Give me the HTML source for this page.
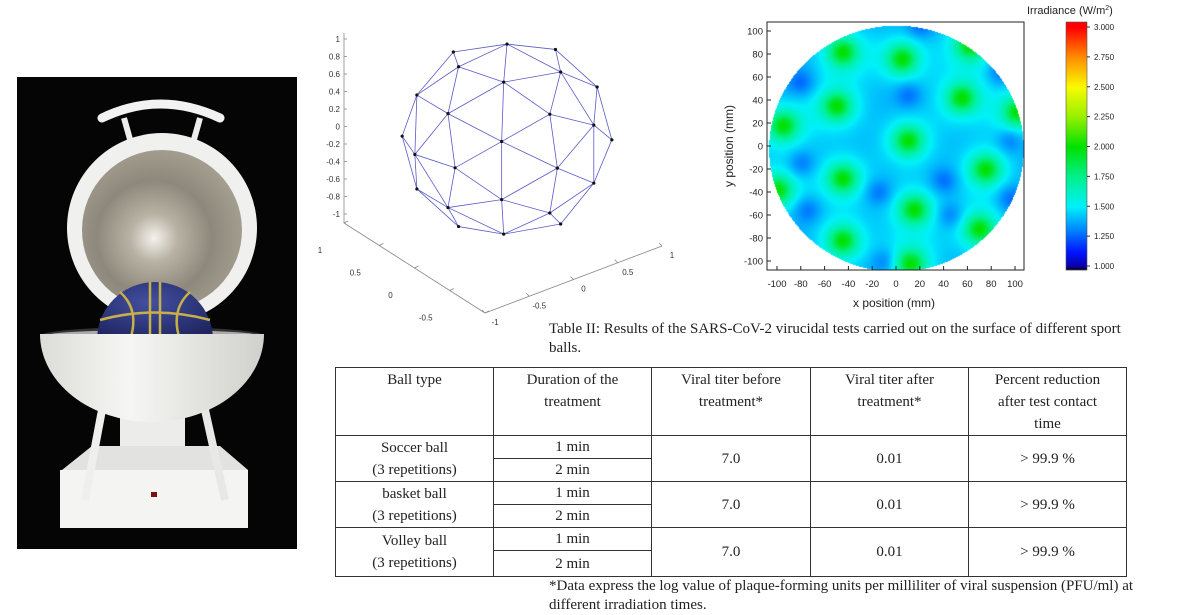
<!DOCTYPE html>
<html><head><meta charset="utf-8">
<style>
body{margin:0;background:#fff;width:1200px;height:611px;position:relative;overflow:hidden;font-family:"Liberation Sans",sans-serif}
.abs{position:absolute}
.cap{font-family:"Liberation Serif",serif;font-size:15px;color:#222;line-height:19px}
table{border-collapse:collapse;font-family:"Liberation Serif",serif;font-size:15px;color:#222}
td{border:1px solid #333;text-align:center;padding:0;line-height:22px;vertical-align:middle}
</style></head><body>

<svg class="abs" style="left:0;top:0" width="310" height="560">
<defs>
<radialGradient id="dish" cx="0.45" cy="0.55" r="0.6"><stop offset="0" stop-color="#f4f2ec"/><stop offset="0.25" stop-color="#b8b2a4"/><stop offset="0.6" stop-color="#8e887c"/><stop offset="1" stop-color="#a8a294"/></radialGradient>
<radialGradient id="ball" cx="0.45" cy="0.35" r="0.7"><stop offset="0" stop-color="#4450a0"/><stop offset="1" stop-color="#1e2560"/></radialGradient>
<linearGradient id="bowl" x1="0" x2="1"><stop offset="0" stop-color="#dcdcd8"/><stop offset="0.4" stop-color="#f6f6f4"/><stop offset="1" stop-color="#d0d0cc"/></linearGradient>
</defs>
<rect x="17" y="77" width="280" height="472" fill="#050505"/>
<path d="M102,118 Q160,90 220,118" stroke="#f2f2f2" stroke-width="9" fill="none" stroke-linecap="round"/>
<line x1="124" y1="118" x2="133" y2="150" stroke="#eee" stroke-width="6"/>
<line x1="200" y1="118" x2="191" y2="150" stroke="#eee" stroke-width="6"/>
<circle cx="162" cy="228" r="95" fill="#f0f0ee"/>
<circle cx="162" cy="230" r="80" fill="url(#dish)"/>
<ellipse cx="152" cy="336" rx="112" ry="9" fill="#333"/>
<ellipse cx="152" cy="336" rx="108" ry="6" fill="#aaa"/>
<path d="M97,340 A58,58 0 0 1 213,340 Z" fill="url(#ball)"/>
<path d="M150,282 L150,340 M160,282 L160,340 M120,292 Q140,310 130,340 M190,292 Q170,310 180,340 M100,320 Q155,305 210,320" stroke="#c8b048" stroke-width="2.5" fill="none"/>
<rect x="120" y="400" width="65" height="55" fill="#ececea"/>
<path d="M62,470 L92,446 L220,446 L248,470 Z" fill="#e2e2e0"/>
<rect x="60" y="470" width="188" height="58" fill="#f4f4f2"/>
<path d="M40,334 L264,334 A112,88 0 0 1 40,334 Z" fill="url(#bowl)"/>
<line x1="102" y1="410" x2="85" y2="500" stroke="#efefed" stroke-width="8"/>
<line x1="205" y1="410" x2="225" y2="500" stroke="#e8e8e6" stroke-width="8"/>
<rect x="151" y="492" width="6" height="5" fill="#7a1010"/>
</svg>

<svg class="abs" id="sph" style="left:0;top:0" width="700" height="330"></svg>

<canvas class="abs" id="hm" style="left:767px;top:22px" width="257" height="248"></canvas>
<svg class="abs" id="hmax" style="left:700px;top:0" width="500" height="320"></svg>

<div class="abs cap" style="left:549px;top:320px;width:595px">Table II: Results of the SARS-CoV-2 virucidal tests carried out on the surface of different sport balls.</div>

<table class="abs" style="left:335px;top:367px;width:792px;border:1.5px solid #333">
<tr style="height:66px"><td style="width:157px;vertical-align:top;padding-top:1px">Ball type</td><td style="width:157px;vertical-align:top;padding-top:1px">Duration of the<br>treatment</td><td style="width:158px;vertical-align:top;padding-top:1px">Viral titer before<br>treatment*</td><td style="width:157px;vertical-align:top;padding-top:1px">Viral titer after<br>treatment*</td><td style="vertical-align:top;padding-top:1px">Percent reduction<br>after test contact<br>time</td></tr>
<tr style="height:23px"><td rowspan="2">Soccer ball<br>(3 repetitions)</td><td>1 min</td><td rowspan="2">7.0</td><td rowspan="2">0.01</td><td rowspan="2">&gt; 99.9 %</td></tr>
<tr style="height:23px"><td>2 min</td></tr>
<tr style="height:23px"><td rowspan="2">basket ball<br>(3 repetitions)</td><td>1 min</td><td rowspan="2">7.0</td><td rowspan="2">0.01</td><td rowspan="2">&gt; 99.9 %</td></tr>
<tr style="height:23px"><td>2 min</td></tr>
<tr style="height:23px"><td rowspan="2">Volley ball<br>(3 repetitions)</td><td>1 min</td><td rowspan="2">7.0</td><td rowspan="2">0.01</td><td rowspan="2">&gt; 99.9 %</td></tr>
<tr style="height:26px"><td>2 min</td></tr>
</table>

<div class="abs cap" style="left:549px;top:577px;width:634px">*Data express the log value of plaque-forming units per milliliter of viral suspension (PFU/ml) at different irradiation times.</div>

<script>
const zTicks=[1,0.8,0.6,0.4,0.2,0,-0.2,-0.4,-0.6,-0.8,-1];
const xTicks=[1,0.5,0,-0.5,-1];
const yTicks=[-1,-0.5,0,0.5,1];
const NS="http://www.w3.org/2000/svg";
function mk(svg,tag,attrs,txt){const e=document.createElementNS(NS,tag);for(const k in attrs)e.setAttribute(k,attrs[k]);if(txt!==undefined)e.textContent=txt;svg.appendChild(e);return e;}
(function(){
const s=document.getElementById('sph');
const ax={stroke:'#888','stroke-width':0.8};
let l;
l=mk(s,'line',Object.assign({x1:344,y1:33,x2:344,y2:223},ax));
l=mk(s,'line',Object.assign({x1:344,y1:223,x2:485,y2:313},ax));
l=mk(s,'line',Object.assign({x1:485,y1:313,x2:662,y2:246},ax));
const zy=v=>214-(v+1)/2*175;
zTicks.forEach(v=>{const y=zy(v);
 mk(s,'line',{x1:344,y1:y,x2:347,y2:y,stroke:'#888','stroke-width':0.8});
 const t=mk(s,'text',{x:340,y:y+3,'text-anchor':'end','font-size':8,fill:'#333'},String(v));
 });
xTicks.forEach((v,i)=>{const f=i/(xTicks.length-1);
 const x=344+f*141,y=223+f*90;
 mk(s,'line',{x1:x,y1:y,x2:x+4,y2:y-2,stroke:'#888','stroke-width':0.8});
 const t=mk(s,'text',{x:x-24,y:y+30,'text-anchor':'middle','font-size':8,fill:'#333'},String(v));
 });
yTicks.forEach((v,i)=>{const f=i/(yTicks.length-1);
 const x=485+f*177,y=313-f*67;
 mk(s,'line',{x1:x,y1:y,x2:x-3,y2:y-3,stroke:'#888','stroke-width':0.8});
 const t=mk(s,'text',{x:x+10,y:y+12,'text-anchor':'middle','font-size':8,fill:'#333'},String(v));
 });
const p=(1+Math.sqrt(5))/2;
let V=[[-1,p,0],[1,p,0],[-1,-p,0],[1,-p,0],[0,-1,p],[0,1,p],[0,-1,-p],[0,1,-p],[p,0,-1],[p,0,1],[-p,0,-1],[-p,0,1]];
let F=[[0,11,5],[0,5,1],[0,1,7],[0,7,10],[0,10,11],[1,5,9],[5,11,4],[11,10,2],[10,7,6],[7,1,8],[3,9,4],[3,4,2],[3,2,6],[3,6,8],[3,8,9],[4,9,5],[2,4,11],[6,2,10],[8,6,7],[9,8,1]];
const norm=v=>{const n=Math.hypot(...v);return v.map(c=>c/n)};
V=V.map(norm);
const cache={};
function mid(a,b){const k=a<b?a+'_'+b:b+'_'+a;if(cache[k]!==undefined)return cache[k];V.push(norm([(V[a][0]+V[b][0])/2,(V[a][1]+V[b][1])/2,(V[a][2]+V[b][2])/2]));return cache[k]=V.length-1;}
const F2=[];F.forEach(([a,b,c])=>{const ab=mid(a,b),bc=mid(b,c),ca=mid(c,a);F2.push([a,ab,ca],[b,bc,ab],[c,ca,bc],[ab,bc,ca]);});
const ry=0.5,rx=0.35;
const P=V.map(([x,y,z])=>{let x1=x*Math.cos(ry)+z*Math.sin(ry),z1=-x*Math.sin(ry)+z*Math.cos(ry);let y1=y*Math.cos(rx)-z1*Math.sin(rx),z2=y*Math.sin(rx)+z1*Math.cos(rx);return [507+x1*105,138-y1*100,z2];});
const seen={};
F2.forEach(f=>{for(let i=0;i<3;i++){const a=f[i],b=f[(i+1)%3];const k=a<b?a+'_'+b:b+'_'+a;if(seen[k])continue;seen[k]=1;
 if(P[a][2]<-0.15||P[b][2]<-0.15)continue;
 const e=mk(s,'line',{x1:P[a][0],y1:P[a][1],x2:P[b][0],y2:P[b][1],stroke:'#5a5ac8','stroke-width':0.8});
 }});
P.forEach(q=>{if(q[2]<-0.15)return;const c=mk(s,'circle',{cx:q[0],cy:q[1],r:1.6,fill:'#111'});});
})();

const hotX=[-45,5,62,-50,55,102,-95,10,75,-45,15,-100,-45,70,12];
const hotY=[82,76,88,35,42,30,18,5,-20,-28,-55,-38,-82,-72,-102];
const coldX=[-80,10,88,-80,-15,40,-75,45,95,95,-10,20];
const coldY=[55,45,65,-15,-40,-30,-55,-60,-45,5,-100,105];
const cbTicks=[3.0,2.75,2.5,2.25,2.0,1.75,1.5,1.25,1.0];
const axTicks=[-100,-80,-60,-40,-20,0,20,40,60,80,100];
const stops=[[0.97,[0,0,0]],[1.0,[10,0,170]],[1.12,[0,20,255]],[1.3,[0,130,255]],[1.5,[0,240,250]],[1.75,[0,240,140]],[2.0,[0,225,0]],[2.25,[150,240,0]],[2.5,[250,250,0]],[2.75,[255,140,0]],[3.0,[255,0,0]]];
function cmap(v){if(v<=stops[0][0])return stops[0][1];for(let i=1;i<stops.length;i++){if(v<=stops[i][0]){const [a,ca]=stops[i-1],[b,cb]=stops[i];const t=(v-a)/(b-a);return ca.map((c,j)=>c+(cb[j]-c)*t);}}return stops[stops.length-1][1];}
const X=v=>777+(v+100)/200*238;
const Y=v=>261-(v+100)/200*230;
(function(){
const cv=document.getElementById('hm'),ctx=cv.getContext('2d');
const img=ctx.createImageData(257,248);
for(let py=0;py<248;py++)for(let px=0;px<257;px++){
 const mx=(px+767-777)/238*200-100, my=(261-(py+22))/230*200-100;
 const i=(py*257+px)*4;
 if(mx*mx+(my+2)*(my+2)>107*107){img.data[i+3]=0;continue;}
 let v=1.36;
 for(let k=0;k<hotX.length;k++){const d=(mx-hotX[k])**2+(my-hotY[k])**2;v+=0.22*Math.exp(-d/(2*17*17))+0.42*Math.exp(-d/(2*8*8));}
 for(let k=0;k<coldX.length;k++){const d=(mx-coldX[k])**2+(my-coldY[k])**2;v-=0.14*Math.exp(-d/(2*8*8));}
 const c=cmap(v);img.data[i]=c[0];img.data[i+1]=c[1];img.data[i+2]=c[2];img.data[i+3]=255;}
ctx.putImageData(img,0,0);
const s=document.getElementById('hmax');
const o=-700;
let r=mk(s,'rect',{x:767+o,y:22,width:257,height:248,fill:'none',stroke:'#222','stroke-width':1});

axTicks.forEach(v=>{const x=X(v)+o;
 mk(s,'line',{x1:x,y1:270,x2:x,y2:266,stroke:'#222','stroke-width':1});
 const t=mk(s,'text',{x:x,y:287,'text-anchor':'middle','font-size':9.5,fill:'#222'},String(v));
 
 const y=Y(v);
 mk(s,'line',{x1:67,y1:y,x2:71,y2:y,stroke:'#222','stroke-width':1});
 const u=mk(s,'text',{x:63,y:y+3.5,'text-anchor':'end','font-size':9.5,fill:'#222'},String(v));
 });
let t=mk(s,'text',{x:194,y:307,'text-anchor':'middle','font-size':12,fill:'#222'},'x position (mm)');

t=mk(s,'text',{x:0,y:0,'text-anchor':'middle','font-size':12,fill:'#222',transform:'translate(33,146) rotate(-90)'},'y position (mm)');

const cbY=v=>266-(v-1)/2*239;
for(let y=22;y<270;y++){const v=1+(266-y)/239*2;const c=cmap(v);
 const e=mk(s,'rect',{x:366,y:y,width:21,height:1.2,fill:`rgb(${c.map(Math.round).join(',')})`});
 }
r=mk(s,'rect',{x:366,y:22,width:21,height:248,fill:'none',stroke:'#555','stroke-width':0.6});

cbTicks.forEach(v=>{const y=cbY(v);
 mk(s,'line',{x1:387,y1:y,x2:390,y2:y,stroke:'#333'});
 const e=mk(s,'text',{x:394,y:y+3,'font-size':8,fill:'#222'},v.toFixed(3));
 });
t=mk(s,'text',{x:327,y:14,'font-size':11,fill:'#222'},'Irradiance (W/m');

const sup=document.createElementNS(NS,'tspan');sup.setAttribute('font-size',7);sup.setAttribute('dy',-4);sup.textContent='2';t.appendChild(sup);
const cl=document.createElementNS(NS,'tspan');cl.setAttribute('dy',4);cl.textContent=')';t.appendChild(cl);
})();
</script>
</body></html>
